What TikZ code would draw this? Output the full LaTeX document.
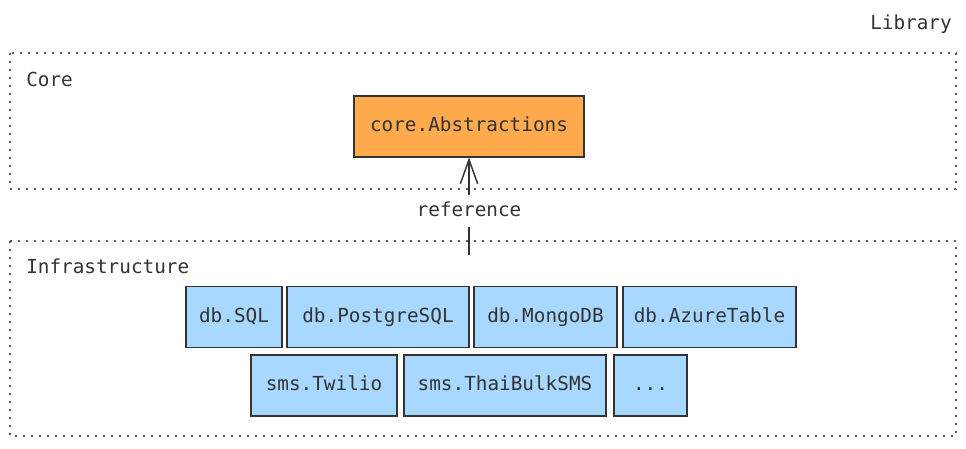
\documentclass[tikz,border=0pt]{standalone}
\usepackage{fontspec}
\setmonofont{DejaVu Sans Mono}
\usetikzlibrary{arrows.meta}
\definecolor{inkgray}{HTML}{333333}
\definecolor{coreorange}{HTML}{FFAA4C}
\definecolor{infrablue}{HTML}{A8D8FF}
\tikzset{
	layer/.style={draw=inkgray!80, line width=1.3pt, dash pattern=on 1.5pt off 4.5pt},
	module/.style={draw=inkgray, line width=1.1pt, text=inkgray, minimum height=45.5pt, inner sep=0pt, text height=10.5pt, text depth=3pt},
	txt/.style={text=inkgray, inner sep=0pt}
}

\begin{document}
\begin{tikzpicture}[x=0.75pt,y=0.75pt,yscale=-1,xscale=1,font=\ttfamily\fontsize{14.5pt}{17pt}\selectfont]
	\useasboundingbox (0,0) rectangle (966,449);
	% layers
	\draw [layer] (10,53) rectangle (956,189);
	\draw [layer] (10,241) rectangle (956,436);
	\node [txt, anchor=east] (lib) at (952,24) {Library};
	\node [txt, anchor=west] (corelbl) at (26,79) {Core};
	\node [txt, anchor=west] (infralbl) at (26,266) {Infrastructure};
	% core
	\node [module, fill=coreorange, minimum width=172.5pt] (abs) at (469,126.5) {core.Abstractions};
	% infrastructure
	\node [module, fill=infrablue, minimum width=72pt] (sql) at (234,317) {db.SQL};
	\node [module, fill=infrablue, minimum width=136.5pt] (pg) at (378,317) {db.PostgreSQL};
	\node [module, fill=infrablue, minimum width=107.25pt] (mongo) at (545.5,317) {db.MongoDB};
	\node [module, fill=infrablue, minimum width=129.75pt] (azure) at (709.5,317) {db.AzureTable};
	\node [module, fill=infrablue, minimum width=109.5pt] (twilio) at (324,385.5) {sms.Twilio};
	\node [module, fill=infrablue, minimum width=151.5pt] (thai) at (505,385.5) {sms.ThaiBulkSMS};
	\node [module, fill=infrablue, minimum width=54.75pt] (more) at (650.5,385.5) {...};
	% dependency
	\coordinate (dep) at (469,255);
	\draw [inkgray, line width=1.1pt, -{Straight Barb[length=18pt, width=13pt, line width=1.1pt]}] (dep) -- node [pos=0.45, fill=white, txt, inner xsep=3pt, inner ysep=5pt, text height=10.5pt, text depth=3pt] (ref) {reference} (abs.south);
\end{tikzpicture}
\end{document}
